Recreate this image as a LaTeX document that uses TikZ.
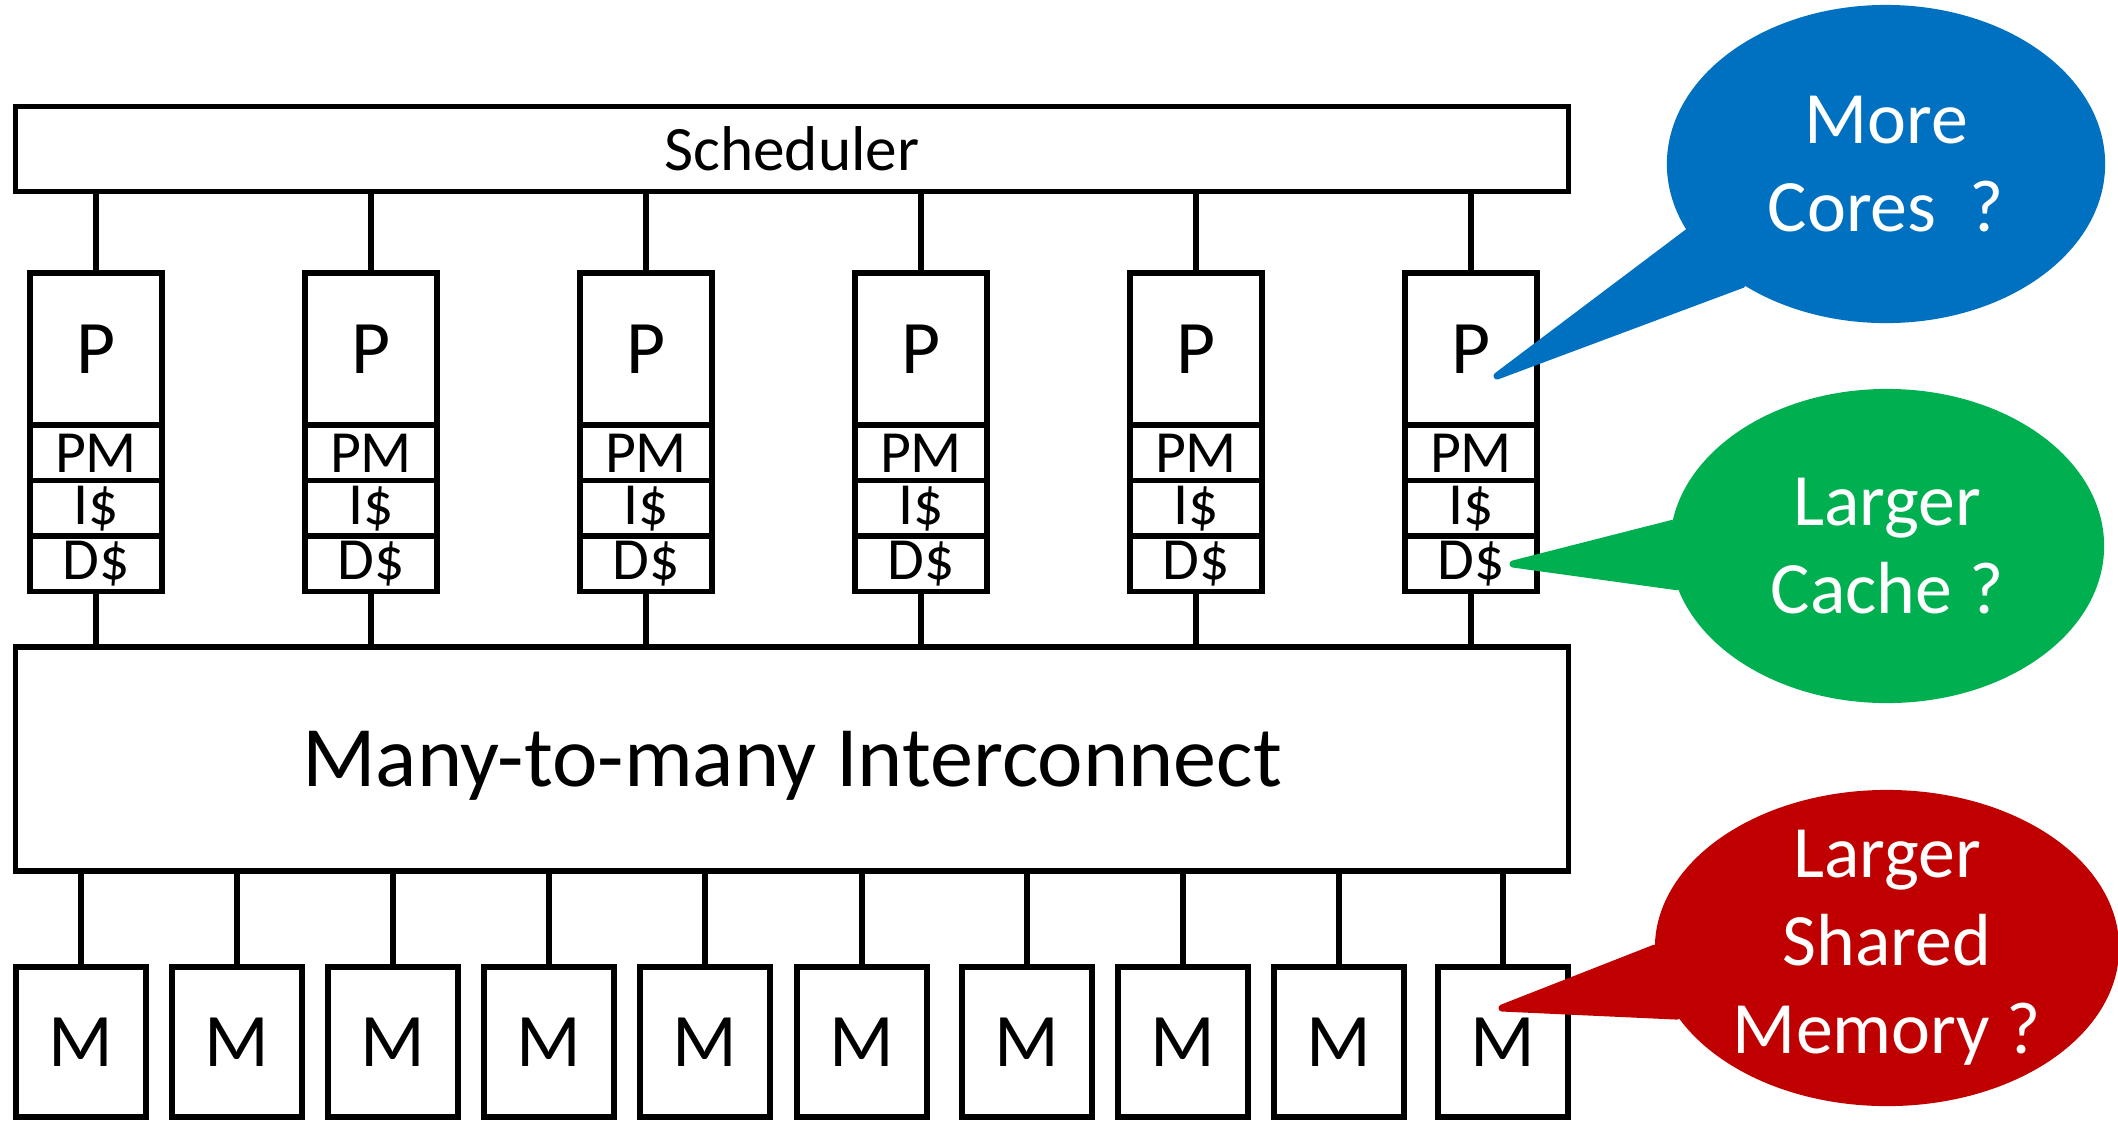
\documentclass[tikz,border=0pt]{standalone}
\usepackage{fontspec}
\setmainfont{Carlito}
\usetikzlibrary{positioning,shapes.geometric}
\definecolor{coreblue}{RGB}{0,112,192}
\definecolor{cachegreen}{RGB}{0,176,80}
\definecolor{memred}{RGB}{192,0,0}

\begin{document}
\begin{tikzpicture}[
  x=0.01cm, y=-0.01cm,
  line width=1.5pt,
  box/.style={draw, outer sep=0pt, inner sep=0pt},
  bus/.style={box, minimum width=15.52cm},
  core/.style={box, minimum width=1.32cm, minimum height=1.52cm, font=\fontsize{21.5}{24}\selectfont},
  cell/.style={box, minimum width=1.32cm, minimum height=0.555cm, font=\fontsize{17}{19}\selectfont},
  mem/.style={box, minimum width=1.30cm, minimum height=1.50cm, font=\fontsize{21.5}{24}\selectfont},
  bubble/.style={ellipse, inner sep=0pt, outer sep=0pt},
  bubbletext/.style={text=white, align=center, font=\fontsize{21}{25}\selectfont},
  tail/.style={line width=2pt, line join=round}
]
\useasboundingbox (0,0) rectangle (2118,1120);

\node[bus, minimum height=0.85cm, font=\fontsize{18}{21}\selectfont] (sched) at (792,149) {Scheduler};
\node[bus, minimum height=2.24cm, text depth=0pt, font=\fontsize{24.5}{28}\selectfont] (net) at (792,759) {Many-to-many Interconnect};

\foreach \i/\x in {1/96,2/371,3/646,4/921,5/1196,6/1471} {
  \node[core] (p\i) at (\x,349) {P};
  \node[cell, below=0pt of p\i] (pm\i) {PM};
  \node[cell, below=0pt of pm\i] (is\i) {I\$};
  \node[cell, below=0pt of is\i] (ds\i) {D\$};
  \draw (p\i.north |- sched.south) -- (p\i.north);
  \draw (ds\i.south) -- (ds\i.south |- net.north);
}

\foreach \i/\x in {1/81,2/237,3/393,4/549,5/705,6/862,7/1027,8/1183,9/1339,10/1503} {
  \node[mem] (m\i) at (\x,1042) {M};
  \draw (net.south -| m\i.north) -- (m\i.north);
}

\node[bubble, fill=coreblue, minimum width=4.38cm, minimum height=3.18cm,
  label={[bubbletext]center:{More\\Cores\ \ ?}}] (cores) at (1886,164) {};
\node[bubble, fill=cachegreen, minimum width=4.34cm, minimum height=3.14cm,
  label={[bubbletext]center:{Larger\\Cache ?}}] (cache) at (1887,546) {};
\node[bubble, fill=memred, minimum width=4.64cm, minimum height=3.16cm,
  label={[bubbletext]center:{Larger\\Shared\\Memory ?}}] (shmem) at (1887,948) {};

\coordinate (coresTip) at (1497,376);
\coordinate (cacheTip) at (1513,564);
\coordinate (shmemTip) at (1502,1008);
\filldraw[tail, coreblue] (cores.199) -- (coresTip) -- (cores.220) -- cycle;
\filldraw[tail, cachegreen] (cache.174) -- (cacheTip) -- (cache.191) -- cycle;
\filldraw[tail, memred] (shmem.180.5) -- (shmemTip) -- (shmem.198) -- cycle;
\end{tikzpicture}
\end{document}
